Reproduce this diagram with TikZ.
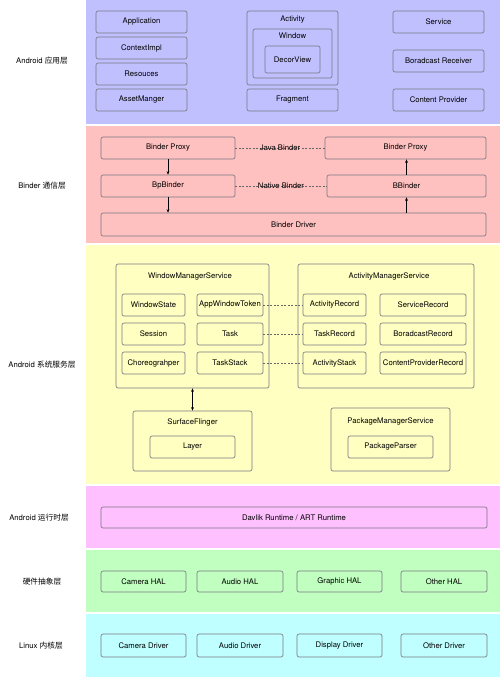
\documentclass[tikz,border=0pt]{standalone}
\usepackage{fontspec}
\setmainfont{TeX Gyre Heros}
\newfontfamily\cjk{Noto Sans CJK SC}
\usepackage{tikz}
\usetikzlibrary{arrows.meta,calc,positioning}
\usepackage{xcolor}
\definecolor{AppBand}{RGB}{192,192,255}
\definecolor{BinderBand}{RGB}{255,192,192}
\definecolor{SysBand}{RGB}{255,255,194}
\definecolor{RtBand}{RGB}{255,192,255}
\definecolor{HalBand}{RGB}{192,255,192}
\definecolor{KernelBand}{RGB}{192,255,255}
\definecolor{Edge}{RGB}{120,120,130}

\begin{document}
\begin{tikzpicture}[x=1pt,y=-1pt,
  every node/.style={font=\fontsize{7.7}{9}\selectfont},
  layer/.style={inner sep=0pt},
  box/.style={draw=Edge,line width=0.65pt,rounded corners=2pt,inner sep=0pt,minimum height=22pt},
  link/.style={draw=black!60,line width=0.5pt,dashed,dash pattern=on 2pt off 1.5pt},
  tip/.style={-{Stealth[length=3.5pt,width=2.8pt]},line width=0.5pt},
  bitip/.style={{Stealth[length=3.5pt,width=2.8pt]}-{Stealth[length=3.5pt,width=2.8pt]},line width=0.5pt}]
\useasboundingbox (0,0) rectangle (500,677);
% bands
\fill[AppBand]    (86,0)   rectangle (500,124);
\fill[BinderBand] (86,126) rectangle (500,243);
\fill[SysBand]    (86,245) rectangle (500,484);
\fill[RtBand]     (86,486) rectangle (500,548);
\fill[HalBand]    (86,550) rectangle (500,612);
\fill[KernelBand] (86,614) rectangle (500,677);
% layer names
\node[layer] (lapp)    at (42,61)  {Android {\cjk 应用层}};
\node[layer] (lbinder) at (42,186) {Binder {\cjk 通信层}};
\node[layer] (lsys)    at (42,365) {Android {\cjk 系统服务层}};
\node[layer] (lrt)     at (39,518) {Android {\cjk 运行时层}};
\node[layer] (lhal)    at (42,582) {{\cjk 硬件抽象层}};
\node[layer] (lkernel) at (41,646) {Linux {\cjk 内核层}};
%
% Android app layer
\node[box,minimum width=91pt] (app)   at (141.5,22)  {Application};
\node[box,minimum width=91pt] (ctx)   at (141.5,48)  {ContextImpl};
\node[box,minimum width=91pt] (res)   at (141.5,74)  {Resouces};
\node[box,minimum width=91pt] (asset) at (141.5,100) {AssetManger};
\node[box,minimum width=91pt,minimum height=74pt] (activity) at (292.5,48) {};
\node[layer] (activityname) at (292.5,20) {Activity};
\node[box,minimum width=79pt,minimum height=49pt] (window) at (292.5,53.5) {};
\node[layer] (windowname) at (292.5,36) {Window};
\node[box,minimum width=55pt,minimum height=27pt] (decor) at (292.5,59.5) {DecorView};
\node[box,minimum width=91pt] (fragment) at (292.5,100) {Fragment};
\node[box,minimum width=91pt] (service)  at (438.5,22)  {Service};
\node[box,minimum width=91pt] (receiver) at (438.5,61)  {Boradcast Receiver};
\node[box,minimum width=91pt] (provider) at (438.5,100) {Content Provider};
%
% Binder layer
\node[box,minimum width=134pt] (jproxy)  at (168,148)   {Binder Proxy};
\node[box,minimum width=161pt] (jproxyr) at (405.5,148) {Binder Proxy};
\node[box,minimum width=134pt] (bp)      at (168,186)   {BpBinder};
\node[box,minimum width=159pt] (bb)      at (406.5,186) {BBinder};
\node[box,minimum width=385pt,minimum height=23pt] (driver) at (293.5,224.5) {Binder Driver};
\draw[link] (jproxy.east) -- (jproxyr.west) node[midway,text=black] {Java Binder};
\draw[link] (bp.east) -- (bb.west) node[midway,text=black] {Native Binder};
\draw[tip] (jproxy.south) -- (bp.north);
\draw[tip] (bp.south) -- (bp.south |- driver.north);
\draw[tip] (driver.north -| bb.south) -- (bb.south);
\draw[tip] (bb.north) -- (jproxyr.south -| bb.north);
%
% system services layer
\node[box,minimum width=153pt,minimum height=124pt] (wms) at (192.5,326) {};
\node[layer] (wmsname) at (190,276) {WindowManagerService};
\node[box,minimum width=63pt] (wstate)  at (153.5,305) {WindowState};
\node[box,minimum width=66pt] (awt)     at (230,305)   {AppWindowToken};
\node[box,minimum width=63pt] (session) at (153.5,334) {Session};
\node[box,minimum width=66pt] (task)    at (230,334)   {Task};
\node[box,minimum width=63pt] (choreo)  at (153.5,363) {Choreograhper};
\node[box,minimum width=66pt] (tstack)  at (230,363)   {TaskStack};
\node[box,minimum width=176pt,minimum height=124pt] (ams) at (386,326) {};
\node[layer] (amsname) at (389,276) {ActivityManagerService};
\node[box,minimum width=63pt] (arec)   at (334.5,305) {ActivityRecord};
\node[box,minimum width=86pt] (srec)   at (423,305)   {ServiceRecord};
\node[box,minimum width=63pt] (trec)   at (334.5,334) {TaskRecord};
\node[box,minimum width=86pt] (brec)   at (423,334)   {BoradcastRecord};
\node[box,minimum width=63pt] (astack) at (334.5,363) {ActivityStack};
\node[box,minimum width=86pt] (cprec)  at (423,363)   {ContentProviderRecord};
\draw[link] (awt.east) -- (arec.west);
\draw[link] (task.east) -- (trec.west);
\draw[link] (tstack.east) -- (astack.west);
\node[box,minimum width=119pt,minimum height=60pt] (sf) at (192.5,441) {};
\node[layer] (sfname) at (192.5,422) {SurfaceFlinger};
\node[box,minimum width=85pt] (layerbox) at (192.5,447) {Layer};
\node[box,minimum width=119pt,minimum height=63pt] (pms) at (390.5,439.5) {};
\node[layer] (pmsname) at (390.5,421) {PackageManagerService};
\node[box,minimum width=85pt] (parser) at (390.5,447) {PackageParser};
\draw[bitip] (wms.south) -- (sf.north);
%
% runtime layer
\node[box,minimum width=386pt,minimum height=21pt] (art) at (294,517.5) {Davlik Runtime / ART Runtime};
%
% HAL layer
\node[box,minimum width=85pt,minimum height=21pt] (camhal) at (143.5,581.5) {Camera HAL};
\node[box,minimum width=86pt,minimum height=21pt] (audhal) at (240,581.5)   {Audio HAL};
\node[box,minimum width=85pt,minimum height=21pt] (grahal) at (339.5,581.5) {Graphic HAL};
\node[box,minimum width=86pt,minimum height=21pt] (othhal) at (444,581.5)   {Other HAL};
%
% kernel layer
\node[box,minimum width=85pt,minimum height=23pt] (camdrv) at (143.5,645.5) {Camera Driver};
\node[box,minimum width=86pt,minimum height=23pt] (auddrv) at (240,645.5)   {Audio Driver};
\node[box,minimum width=85pt,minimum height=23pt] (disdrv) at (339.5,645.5) {Display Driver};
\node[box,minimum width=86pt,minimum height=23pt] (othdrv) at (444,645.5)   {Other Driver};
%
\end{tikzpicture}
\end{document}
